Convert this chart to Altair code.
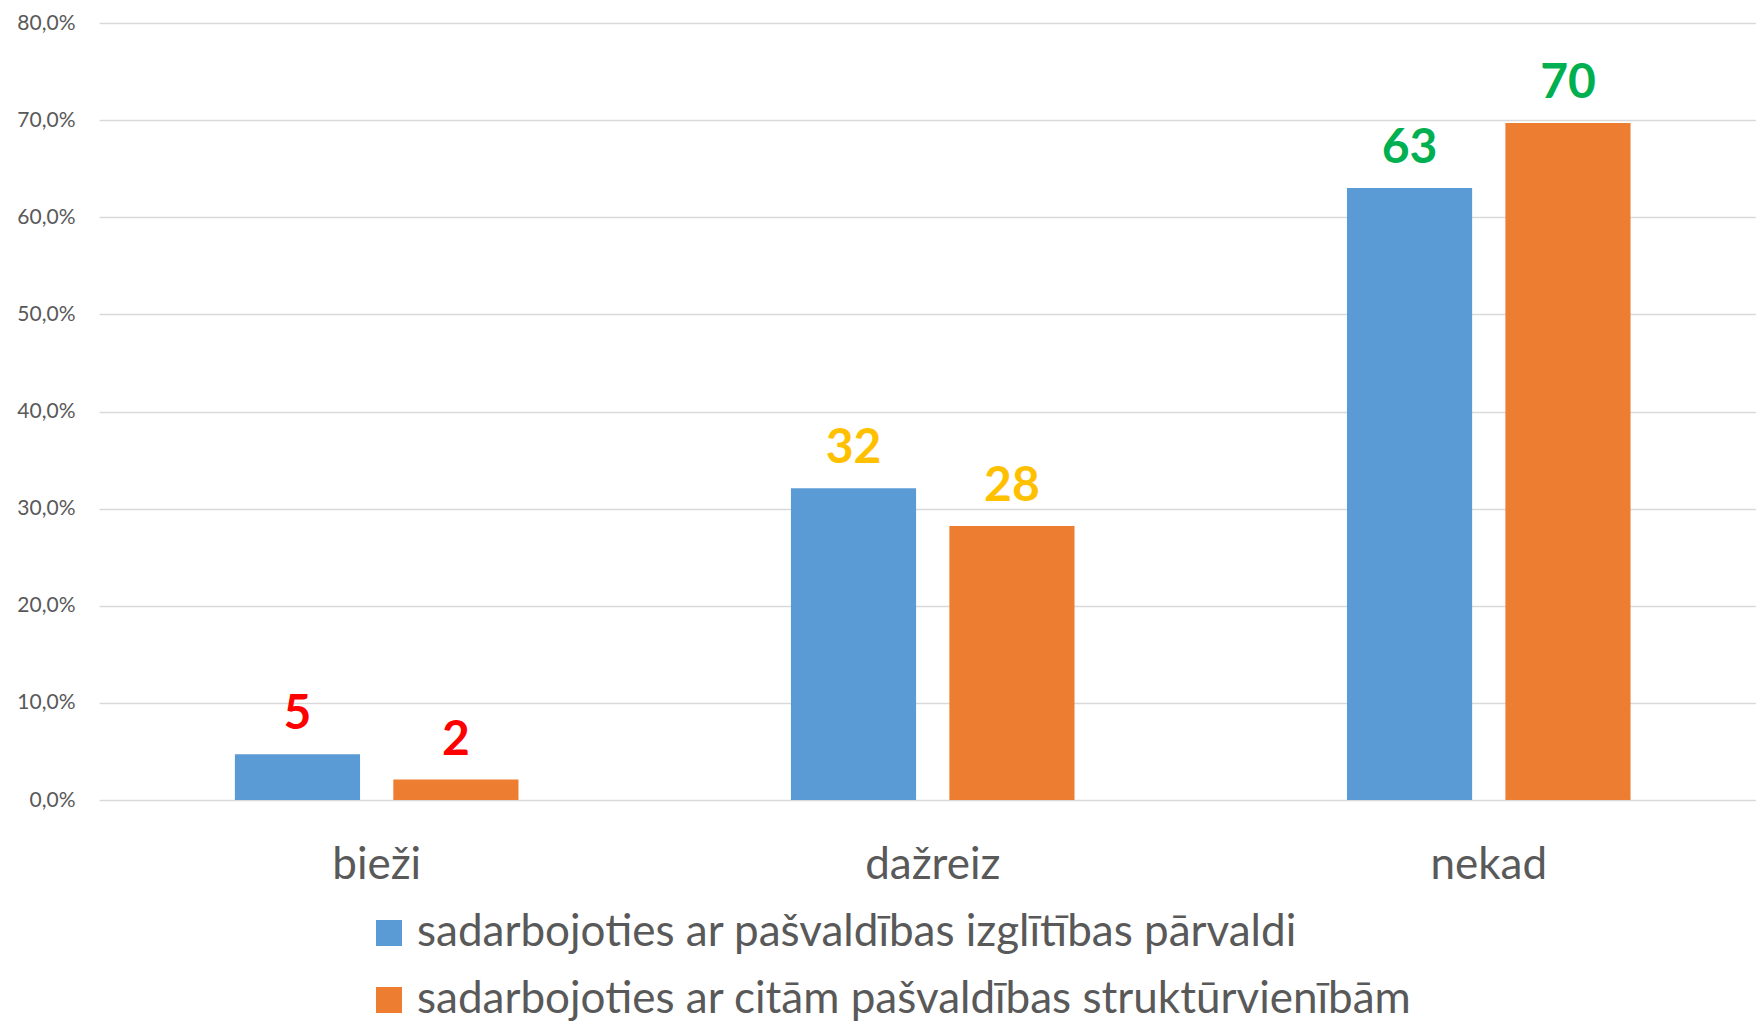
import altair as alt
import pandas as pd

categories = ["bieži", "dažreiz", "nekad"]
series = [
    "sadarbojoties ar pašvaldības izglītības pārvaldi",
    "sadarbojoties ar citām pašvaldības struktūrvienībām",
]
values_s1 = [4.7, 32.1, 63.0]
values_s2 = [2.1, 28.2, 69.7]
labels_s1 = ["5", "32", "63"]
labels_s2 = ["2", "28", "70"]
y_ticks = [0, 10, 20, 30, 40, 50, 60, 70, 80]

rows = []
for i, c in enumerate(categories):
    rows.append(dict(cat=c, series=series[0], value=values_s1[i], label=labels_s1[i]))
    rows.append(dict(cat=c, series=series[1], value=values_s2[i], label=labels_s2[i]))
df = pd.DataFrame(rows)

FONT = "Lato"
GRAY = "#595959"

x = alt.X(
    "cat:N",
    sort=categories,
    scale=alt.Scale(paddingInner=0.49, paddingOuter=0.235, align=0.52),
    axis=alt.Axis(
        title=None, labelFontSize=44, labelColor=GRAY, labelPadding=43,
        ticks=False, domain=False, labelAngle=0, labelFont=FONT, grid=False,
    ),
)
xo = alt.XOffset("series:N", sort=series, scale=alt.Scale(paddingInner=0.21, paddingOuter=0))
y = alt.Y(
    "value:Q",
    scale=alt.Scale(domain=[0, 80], nice=False, zero=True),
    axis=alt.Axis(
        title=None, values=y_ticks,
        labelExpr="replace(format(datum.value,'.1f'),'.',',') + '%'",
        labelFontSize=21, labelColor=GRAY, labelFont=FONT, labelPadding=24,
        ticks=False, domain=False, grid=True, gridColor="#d9d9d9", gridWidth=1.5,
    ),
)

bars = alt.Chart(df).mark_bar().encode(
    x=x, xOffset=xo, y=y,
    color=alt.Color(
        "series:N", sort=series,
        scale=alt.Scale(domain=series, range=["#5B9BD5", "#ED7D31"]),
        legend=alt.Legend(
            orient="none", legendX=268, legendY=888, direction="vertical",
            title=None, symbolType="square", symbolSize=676, symbolStrokeWidth=0,
            labelFontSize=44, labelFont=FONT, labelColor=GRAY, rowPadding=23,
            labelOffset=6, padding=0, labelLimit=2000,
        ),
    ),
)

text = alt.Chart(df).mark_text(
    fontSize=48, fontWeight="bold", dy=-25, baseline="alphabetic", font=FONT
).encode(
    x=x, xOffset=xo, y=y, text="label:N",
    color=alt.Color(
        "cat:N", scale=alt.Scale(domain=categories, range=["#FF0000", "#FFC000", "#00B050"]),
        legend=None,
    ),
)

chart = (
    alt.layer(bars, text)
    .resolve_scale(color="independent")
    .properties(
        width=1657, height=777,
        autosize=alt.AutoSizeParams(type="none"),
        padding={"left": 91, "top": 15, "right": 0, "bottom": 221},
        background="white",
    )
    .configure_view(stroke=None)
)

chart.save("out.html", embed_options={"renderer": "svg", "actions": False})
